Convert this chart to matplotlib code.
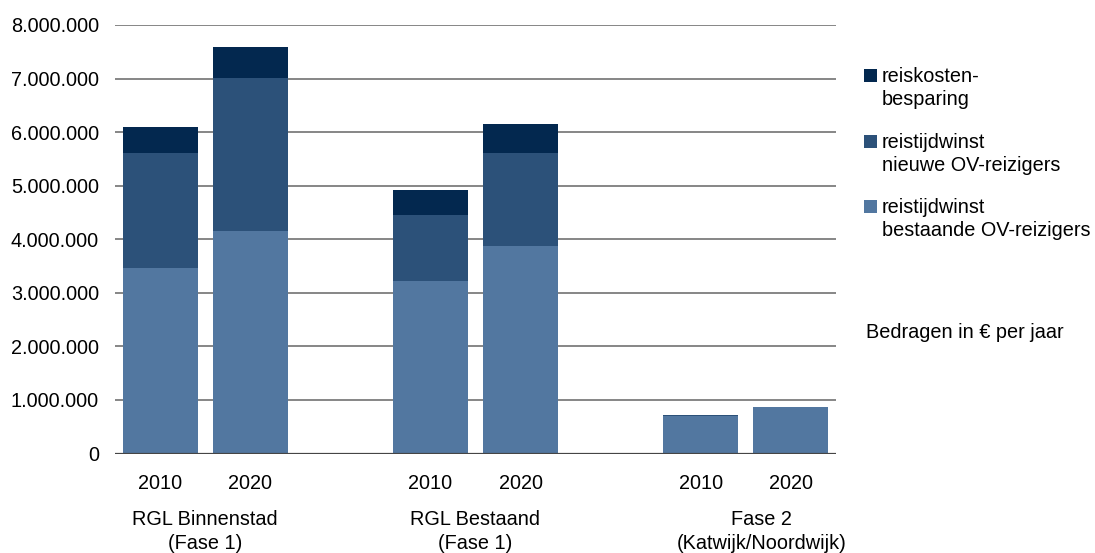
import matplotlib
matplotlib.use("Agg")
import matplotlib.pyplot as plt
from matplotlib.patches import Rectangle
from matplotlib.ticker import FuncFormatter

plt.rcParams['font.family'] = ['Liberation Sans', 'DejaVu Sans']

# ---- data ----
slot_labels = ["2010", "2020", "", "2010", "2020", "", "2010", "2020"]
bar_slots = [0, 1, 3, 4, 6, 7]
base_vals = [3470000, 4150000, 3220000, 3870000, 700000, 870000]   # reistijdwinst bestaande OV-reizigers
mid_vals = [2140000, 2860000, 1230000, 1740000, 20000, 0]          # reistijdwinst nieuwe OV-reizigers
top_vals = [490000, 580000, 470000, 540000, 0, 0]                  # reiskostenbesparing
group_labels = [("RGL Binnenstad", "(Fase 1)"),
                ("RGL Bestaand", "(Fase 1)"),
                ("Fase 2", "(Katwijk/Noordwijk)")]
group_x = [0.5, 3.5, 6.67]
series_names = ["reiskosten-\nbesparing",
                "reistijdwinst\nnieuwe OV-reizigers",
                "reistijdwinst\nbestaande OV-reizigers"]
y_ticks = [0, 1000000, 2000000, 3000000, 4000000, 5000000, 6000000, 7000000, 8000000]
note = "Bedragen in \u20ac per jaar"

c_light = "#5277a0"
c_mid = "#2c5179"
c_dark = "#03284f"

W, H = 1095, 553
fig = plt.figure(figsize=(W / 100, H / 100), dpi=100)
ax = fig.add_axes([115 / W, 1 - 453.5 / H, 721 / W, (453.5 - 25) / H])

FS = 14.3
width = 0.833
mid_bottom = list(base_vals)
top_bottom = [b + m for b, m in zip(base_vals, mid_vals)]
ax.bar(bar_slots, base_vals, width=width, color=c_light, zorder=3)
ax.bar(bar_slots, mid_vals, width=width, bottom=mid_bottom, color=c_mid, zorder=3)
ax.bar(bar_slots, top_vals, width=width, bottom=top_bottom, color=c_dark, zorder=3)

ax.set_xlim(-0.5, 7.5)
ax.set_ylim(0, 8000000)
ax.set_yticks(y_ticks)
ax.yaxis.set_major_formatter(FuncFormatter(lambda v, p: f"{int(v):,}".replace(",", ".")))
ax.set_xticks(range(len(slot_labels)))
ax.set_xticklabels(slot_labels)
ax.tick_params(axis='y', length=0, pad=11.5, labelsize=FS)
ax.tick_params(axis='x', length=0, pad=15, labelsize=FS)

for s in ax.spines.values():
    s.set_visible(False)
ax.grid(axis='y', color='#666666', linewidth=1.1, zorder=0)
ax.axhline(0, color='#454545', linewidth=1.6, zorder=4)

# group labels (two lines each)
trans_x = ax.get_xaxis_transform()
ax_h_px = 453.5 - 25
for (l1, l2), gx in zip(group_labels, group_x):
    ax.text(gx, -(525 - 453.5) / ax_h_px, l1, transform=trans_x, ha='center', va='baseline',
            fontsize=FS, clip_on=False)
    ax.text(gx, -(549 - 453.5) / ax_h_px, l2, transform=trans_x, ha='center', va='baseline',
            fontsize=FS, clip_on=False)

# legend (manual, square aligned with first line)
leg_colors = [c_dark, c_mid, c_light]
leg_baselines = [82, 148, 213]
for col, name, bl in zip(leg_colors, series_names, leg_baselines):
    fig.patches.append(Rectangle((864 / W, 1 - bl / H), 13 / W, 13 / H,
                                 transform=fig.transFigure, facecolor=col, edgecolor='none'))
    for i, ln in enumerate(name.split("\n")):
        fig.text(882 / W, 1 - (bl + 23 * i) / H, ln, ha='left', va='baseline', fontsize=FS)

fig.text(866 / W, 1 - 338 / H, note, ha='left', va='baseline', fontsize=FS)

fig.savefig("out.png", dpi=100)
